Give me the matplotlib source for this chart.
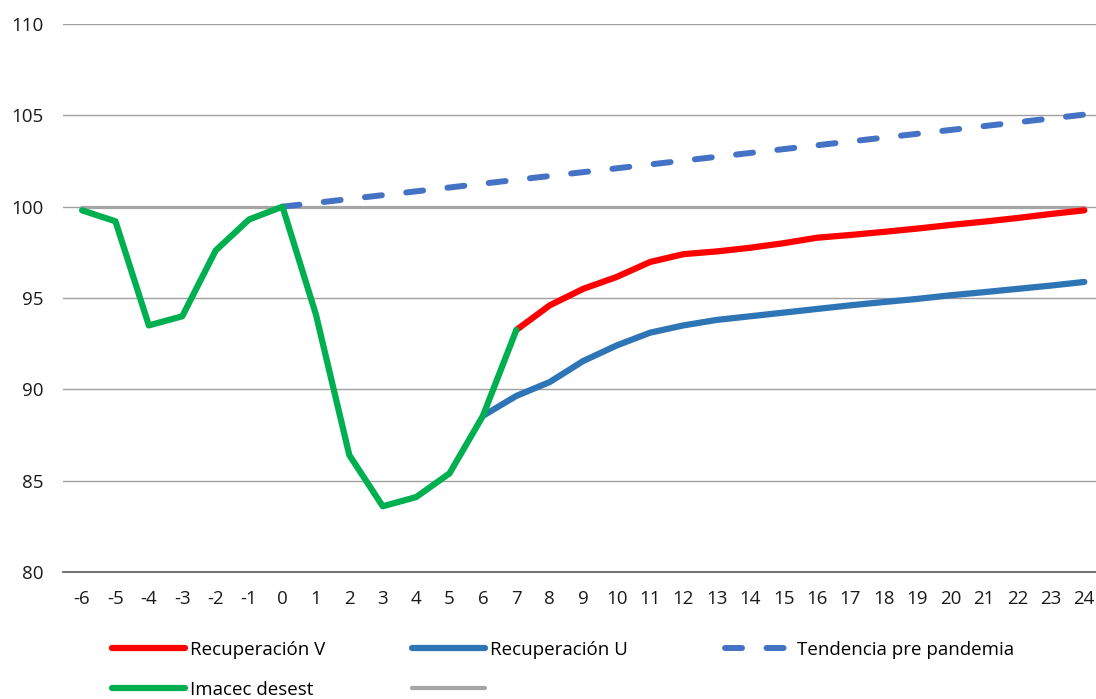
import matplotlib
matplotlib.use("Agg")
import matplotlib.pyplot as plt

plt.rcParams['font.family'] = ['Open Sans', 'DejaVu Sans']
plt.rcParams['axes.unicode_minus'] = False

months = list(range(-6, 25))
imacec_x = list(range(-6, 8))
imacec = [99.8, 99.2, 93.5, 94.0, 97.6, 99.3, 100.0, 94.1, 86.4, 83.6, 84.1, 85.4, 88.55, 93.25]
v_x = list(range(7, 25))
rec_v = [93.25, 94.6, 95.5, 96.15, 96.97, 97.4, 97.55, 97.75, 98.0, 98.3, 98.45, 98.62,
         98.8, 99.0, 99.18, 99.38, 99.6, 99.8]
u_x = list(range(6, 25))
rec_u = [88.55, 89.64, 90.4, 91.55, 92.4, 93.1, 93.5, 93.8, 94.0, 94.2, 94.4, 94.6,
         94.78, 94.95, 95.15, 95.32, 95.5, 95.68, 95.88]
t_x = list(range(0, 25))
tendencia = [100.0, 100.21, 100.42, 100.63, 100.84, 101.05, 101.26, 101.47, 101.68, 101.89,
             102.1, 102.31, 102.52, 102.73, 102.94, 103.15, 103.36, 103.57, 103.78, 103.99,
             104.2, 104.41, 104.62, 104.83, 105.04]
base = [100.0] * len(months)

W, H = 1096, 699
fig = plt.figure(figsize=(W / 100, H / 100), dpi=100)
ax = fig.add_axes([63 / W, 1 - 572 / H, 1 - 63 / W, (572 - 24) / H])

ax.set_ylim(80, 110)
ax.set_xlim(-6.57, 24.35)
ax.set_yticks([80, 85, 90, 95, 100, 105, 110])
ax.set_xticks(months)
ax.grid(axis='y', color='#A0A0A0', linewidth=1.0)
ax.set_axisbelow(True)
for s in ax.spines.values():
    s.set_visible(False)
ax.spines['bottom'].set_visible(True)
ax.spines['bottom'].set_color('#595959')
ax.spines['bottom'].set_linewidth(1.2)
ax.tick_params(length=0, labelsize=13.5, colors='#1a1a1a')
ax.tick_params(axis='y', pad=14)
ax.tick_params(axis='x', pad=13)

lw = 4.5
dash = (2.85, 4.1)
l_base, = ax.plot(months, base, color='#A5A5A5', linewidth=2.3, zorder=2)
l_t, = ax.plot(t_x, tendencia, color='#4472C4', linewidth=4.3, dashes=dash,
               dash_capstyle='round', zorder=3)
l_u, = ax.plot(u_x, rec_u, color='#2E75B6', linewidth=lw, solid_capstyle='round', zorder=3)
l_v, = ax.plot(v_x, rec_v, color='#FF0000', linewidth=lw, solid_capstyle='round', zorder=4)
l_i, = ax.plot(imacec_x, imacec, color='#00B050', linewidth=lw, solid_capstyle='round', zorder=5)

common = dict(loc='upper left', frameon=False, fontsize=13.5,
              labelspacing=1.15, borderaxespad=0, borderpad=0)
top = 1 - 641 / H
leg1 = fig.legend(handles=[l_v, l_i], labels=['Recuperación V', 'Imacec desest'],
                  bbox_to_anchor=(112 / W, top), handlelength=3.9, handletextpad=0.27, **common)
leg2 = fig.legend(handles=[l_u, l_base], labels=['Recuperación U', ''],
                  bbox_to_anchor=(412 / W, top), handlelength=3.9, handletextpad=0.27, **common)
leg3 = fig.legend(handles=[l_t], labels=['Tendencia pre pandemia'],
                  bbox_to_anchor=(725 / W, top), handlelength=3.2, handletextpad=0.62, **common)
for leg in (leg1, leg2, leg3):
    for h in leg.get_lines():
        h.set_solid_capstyle('round')
        h.set_dash_capstyle('round')
leg2.get_lines()[1].set_linewidth(3.0)
leg3.get_lines()[0].set_dashes(dash)

fig.savefig('out.png', dpi=100)
